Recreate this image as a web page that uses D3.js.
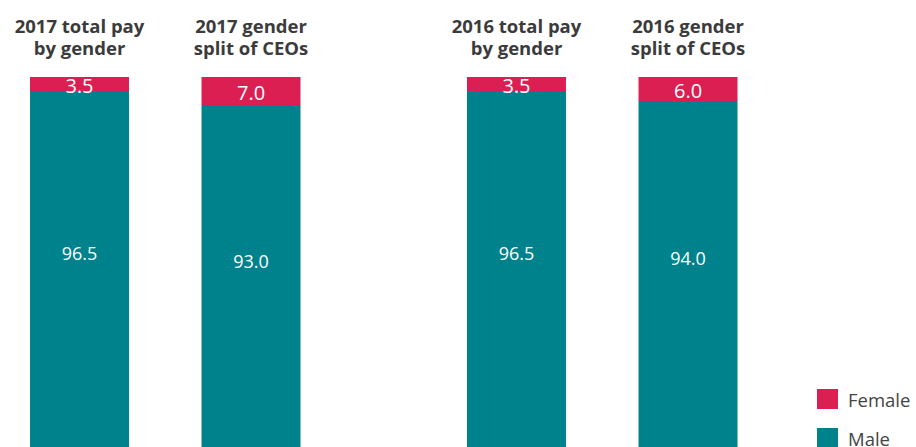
<!DOCTYPE html>
<html>
<head>
<meta charset="utf-8">
<script src="https://cdn.jsdelivr.net/npm/d3@7"></script>
<style>
  html, body { margin: 0; padding: 0; background: #fff; }
  svg { display: block; font-family: "Open Sans", sans-serif; }
</style>
</head>
<body>
<svg id="chart" width="916" height="447"></svg>
<script>
'use strict'

const years = ['2017', '2016']
const metrics = ['pay', 'ceo']
const titles = [
  ['2017 total pay', 'by gender'], ['2017 gender', 'split of CEOs'],
  ['2016 total pay', 'by gender'], ['2016 gender', 'split of CEOs']
]
const female = [3.5, 7.0, 3.5, 6.0]
const male = [96.5, 93.0, 96.5, 94.0]
const legendKeys = ['Female', 'Male']

const colors = { Female: '#db1f53', Male: '#00828c' }

const svg = d3.select('#chart')

const x0 = d3.scaleBand().domain(years).range([30, 904])
const x1 = d3.scaleBand().domain(metrics).range([0, 270.5]).paddingInner(0.423)
const y = d3.scaleLinear().domain([0, 100]).range([477, 77])

const rows = []
years.forEach((yr, i) => {
  metrics.forEach((m, j) => {
    const k = i * 2 + j
    rows.push({ year: yr, metric: m, title: titles[k], female: female[k], male: male[k] })
  })
})

const g = svg.append('g')
  .selectAll('g')
  .data(rows)
  .join('g')
  .attr('transform', d => `translate(${x0(d.year) + x1(d.metric)},0)`)

const bw = x1.bandwidth()

// male segment (bottom)
g.append('rect')
  .attr('x', 0)
  .attr('width', bw)
  .attr('y', d => y(d.male))
  .attr('height', d => y(0) - y(d.male))
  .attr('fill', colors.Male)

// female segment (top)
g.append('rect')
  .attr('x', 0)
  .attr('width', bw)
  .attr('y', d => y(d.male + d.female))
  .attr('height', d => y(d.male) - y(d.male + d.female))
  .attr('fill', colors.Female)

g.append('text')
  .attr('x', bw / 2)
  .attr('y', d => (y(d.male + d.female) + y(d.male)) / 2 + 2)
  .attr('dy', '0.36em')
  .attr('text-anchor', 'middle')
  .attr('fill', '#fff')
  .style('font-size', '20px')
  .text(d => d.female.toFixed(1))

g.append('text')
  .attr('x', bw / 2)
  .attr('y', d => y(d.male) + 0.42 * (y(0) - y(d.male)))
  .attr('dy', '0.36em')
  .attr('text-anchor', 'middle')
  .attr('fill', '#fff')
  .style('font-size', '18px')
  .text(d => d.male.toFixed(1))

const t = g.append('text')
  .attr('text-anchor', 'middle')
  .attr('fill', '#3b3b3b')
  .style('font-size', '18.5px')
  .style('font-weight', 'bold')
t.selectAll('tspan')
  .data(d => d.title)
  .join('tspan')
  .attr('x', bw / 2)
  .attr('y', (d, i) => 33 + i * 22)
  .text(d => d)

// legend
const lg = svg.append('g')
  .selectAll('g')
  .data(legendKeys)
  .join('g')
  .attr('transform', (d, i) => `translate(817,${389 + i * 39})`)
lg.append('rect').attr('width', 21).attr('height', 20).attr('fill', d => colors[d])
lg.append('text')
  .attr('x', 31)
  .attr('y', 18)
  .attr('fill', '#444')
  .style('font-size', '18.5px')
  .text(d => d)
</script>
</body>
</html>
